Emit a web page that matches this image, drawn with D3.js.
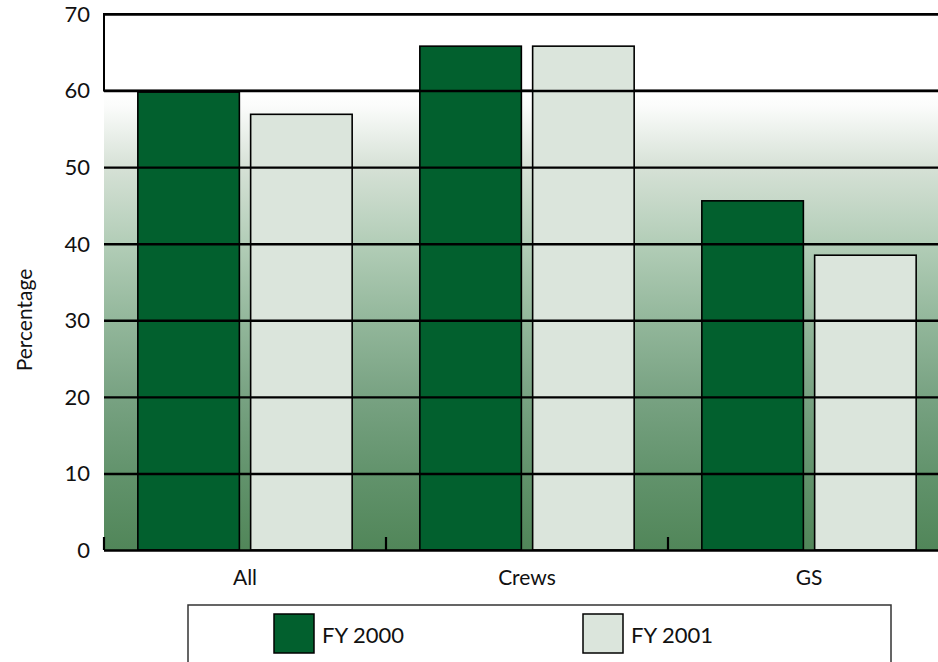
<!DOCTYPE html>
<html>
<head>
<meta charset="utf-8">
<script src="https://cdn.jsdelivr.net/npm/d3@7"></script>
<style>
  body { margin: 0; background: #fff; }
  svg { display: block; font-family: Lato, "Noto Sans", sans-serif; }
</style>
</head>
<body>
<div id="graphic"></div>
<script>
// chart data
const categories = ['All', 'Crews', 'GS'];
const seriesNames = ['FY 2000', 'FY 2001'];
const fy2000 = [59.8, 65.8, 45.6];
const fy2001 = [56.9, 65.8, 38.5];
const yTicks = [0, 10, 20, 30, 40, 50, 60, 70];

const colours = ['#02602e', '#dbe5dc'];

// background fade, value -> colour
const bgStops = [
    [60, '#ffffff'], [58, '#fbfcfb'], [50, '#d6e1d6'], [40, '#b2cdb7'],
    [30, '#93b79b'], [20, '#78a282'], [10, '#62936c'], [0, '#518659']
];

const width = 938, height = 662;
const margin = { top: 14, left: 104, bottom: 112 };
const plotRight = 950;

const svg = d3.select('#graphic').append('svg')
    .attr('width', width)
    .attr('height', height);

const y = d3.scaleLinear().domain([0, 70]).range([height - margin.bottom, margin.top]);
const x0 = d3.scaleBand().domain(categories).range([margin.left, plotRight]).padding(0);
const x1 = d3.scaleBand().domain(seriesNames).range([0, x0.bandwidth()])
    .paddingInner(0.1).paddingOuter(0.3);

const data = categories.map((c, i) => ({ name: c, values: [fy2000[i], fy2001[i]] }));

// gradient background
const defs = svg.append('defs');
const grad = defs.append('linearGradient')
    .attr('id', 'bg')
    .attr('gradientUnits', 'userSpaceOnUse')
    .attr('x1', 0).attr('x2', 0)
    .attr('y1', y(60)).attr('y2', y(0));
grad.selectAll('stop')
    .data(bgStops)
    .join('stop')
    .attr('offset', d => (60 - d[0]) / 60)
    .attr('stop-color', d => d[1]);

svg.append('rect')
    .attr('x', margin.left).attr('y', y(60))
    .attr('width', plotRight - margin.left).attr('height', y(0) - y(60))
    .attr('fill', 'url(#bg)');

// top white band with its frame
svg.append('rect')
    .attr('x', margin.left).attr('y', y(70))
    .attr('width', plotRight - margin.left).attr('height', y(60) - y(70))
    .attr('fill', '#fff')
    .attr('stroke', '#000')
    .attr('stroke-width', 2);

// bars
svg.append('g')
    .selectAll('g')
    .data(data)
    .join('g')
    .attr('transform', d => `translate(${x0(d.name)},0)`)
    .selectAll('rect')
    .data(d => d.values.map((v, i) => ({ key: seriesNames[i], value: v, i: i })))
    .join('rect')
    .attr('x', d => x1(d.key))
    .attr('y', d => y(d.value))
    .attr('width', x1.bandwidth())
    .attr('height', d => y(0) - y(d.value))
    .attr('fill', d => colours[d.i])
    .attr('stroke', '#000')
    .attr('stroke-width', 1.6);

// grid lines drawn over the bars
svg.append('g')
    .attr('class', 'grid')
    .attr('transform', `translate(${margin.left},0)`)
    .call(d3.axisLeft(y).tickValues(yTicks).tickSize(-(plotRight - margin.left)).tickFormat(''))
    .call(g => g.select('.domain').remove())
    .call(g => g.selectAll('.tick line').attr('stroke', '#000').attr('stroke-width', 2.4));

// y tick labels
svg.append('g')
    .selectAll('text')
    .data(yTicks)
    .join('text')
    .attr('x', 90)
    .attr('y', d => y(d))
    .attr('dy', '0.36em')
    .attr('text-anchor', 'end')
    .attr('font-size', 22)
    .attr('fill', '#111')
    .text(d => d);

// category ticks pointing up from the base line
svg.append('g')
    .selectAll('line')
    .data(categories.map(c => x0(c)).concat([plotRight]))
    .join('line')
    .attr('x1', d => d).attr('x2', d => d)
    .attr('y1', y(0)).attr('y2', y(0) - 13)
    .attr('stroke', '#000')
    .attr('stroke-width', 2.2);

// category labels
svg.append('g')
    .selectAll('text')
    .data(categories)
    .join('text')
    .attr('x', d => x0(d) + x0.bandwidth() / 2)
    .attr('y', 585)
    .attr('text-anchor', 'middle')
    .attr('font-size', 21)
    .attr('fill', '#111')
    .text(d => d);

// y axis label
svg.append('text')
    .attr('transform', `translate(32,${(y(0) + y(70)) / 2 + 38}) rotate(-90)`)
    .attr('text-anchor', 'middle')
    .attr('font-size', 21)
    .attr('fill', '#111')
    .text('Percentage');

// legend
const legend = svg.append('g');
legend.append('rect')
    .attr('x', 188).attr('y', 605)
    .attr('width', 703).attr('height', 80)
    .attr('fill', '#fff')
    .attr('stroke', '#333')
    .attr('stroke-width', 1.5);

const legendX = [274, 583];
const item = legend.selectAll('g.item')
    .data(seriesNames)
    .join('g')
    .attr('class', 'item')
    .attr('transform', (d, i) => `translate(${legendX[i]},614)`);

item.append('rect')
    .attr('width', 40).attr('height', 39)
    .attr('fill', (d, i) => colours[i])
    .attr('stroke', '#000')
    .attr('stroke-width', 1.5);

item.append('text')
    .attr('x', 48).attr('y', 29)
    .attr('font-size', 22)
    .attr('fill', '#111')
    .text(d => d);
</script>
</body>
</html>
